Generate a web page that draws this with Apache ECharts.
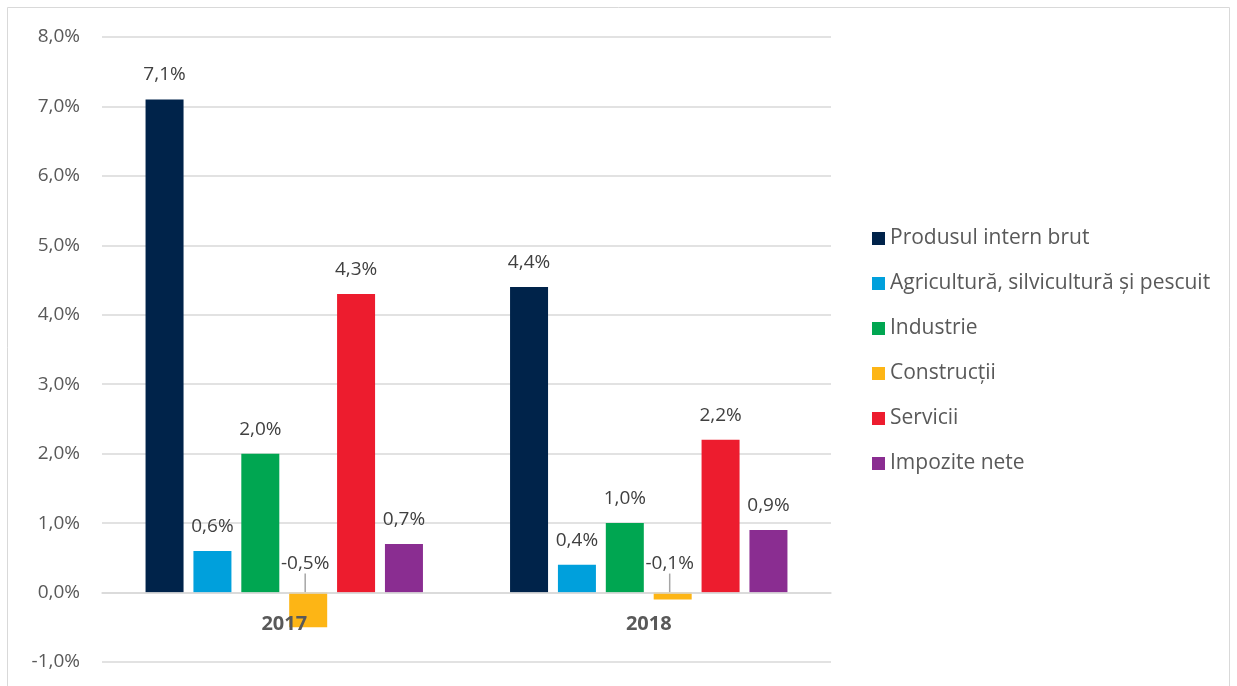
<!DOCTYPE html>
<html>
<head>
<meta charset="utf-8">
<script src="https://cdn.jsdelivr.net/npm/echarts@6/dist/echarts.min.js"></script>
<style>
  html, body { margin: 0; padding: 0; background: #fff; }
  #chart { width: 1237px; height: 686px; }
</style>
</head>
<body>
<div id="chart"></div>
<script>
// date
var years = ['2017', '2018'];
var seriesNames = [
  'Produsul intern brut',
  'Agricultură, silvicultură și pescuit',
  'Industrie',
  'Construcții',
  'Servicii',
  'Impozite nete'
];
var pib = [7.1, 4.4];
var agricultura = [0.6, 0.4];
var industrie = [2.0, 1.0];
var constructii = [-0.5, -0.1];
var servicii = [4.3, 2.2];
var impozite = [0.7, 0.9];
var yTicks = [-1, 0, 1, 2, 3, 4, 5, 6, 7, 8];

var colors = ['#00234A', '#00A0DC', '#00A651', '#FDB515', '#ED1C2E', '#8A2D91'];
var allValues = [pib, agricultura, industrie, constructii, servicii, impozite];

function pct(v) {
  return v.toFixed(1).replace('.', ',') + '%';
}

var chart = echarts.init(document.getElementById('chart'));

var series = allValues.map(function (vals, i) {
  var s = {
    name: seriesNames[i],
    type: 'bar',
    barWidth: 38,
    barGap: '26%',
    itemStyle: { color: colors[i] },
    label: {
      show: true,
      position: 'top',
      distance: 15,
      color: '#404040',
      fontSize: 19,
      fontFamily: 'Open Sans',
      formatter: function (p) { return pct(p.value); }
    },
    data: vals
  };
  // valorile negative: eticheta mutata deasupra axei, cu linie de legatura
  if (vals.some(function (v) { return v < 0; })) {
    s.label.position = 'insideBottom';
    s.label.distance = 0;
    s.labelLayout = function (p) {
      return { y: p.rect.y - 19, x: p.rect.x + p.rect.width / 2 - 3, align: 'center', verticalAlign: 'bottom' };
    };
    s.labelLine = { show: true, lineStyle: { color: '#a6a6a6', width: 1.5 } };
  }
  return s;
});

var option = {
  backgroundColor: '#fff',
  animation: false,
  textStyle: { fontFamily: 'Open Sans' },
  graphic: [{
    type: 'rect',
    shape: { x: 7.5, y: 7.5, width: 1222, height: 700 },
    style: { fill: 'none', stroke: '#d9d9d9', lineWidth: 1 },
    silent: true,
    z: -1
  }],
  grid: { left: 102, right: 406, top: 37, bottom: 24, outerBoundsMode: 'none' },
  legend: {
    orient: 'vertical',
    left: 872,
    top: 228,
    padding: 0,
    itemWidth: 13,
    itemHeight: 13,
    itemGap: 24,
    icon: 'rect',
    textStyle: { color: '#595959', fontSize: 21, fontFamily: 'Open Sans', padding: [0, 0, 0, 0] },
    data: seriesNames
  },
  xAxis: {
    type: 'category',
    data: years,
    z: 10,
    axisLine: { onZero: true, lineStyle: { color: '#d9d9d9', width: 1.5 } },
    axisTick: { show: false },
    axisLabel: { color: '#595959', fontSize: 20, fontWeight: 'bold', margin: -48 }
  },
  yAxis: {
    type: 'value',
    min: yTicks[0],
    max: yTicks[yTicks.length - 1],
    interval: 1,
    axisLine: { show: false },
    axisTick: { show: false },
    splitLine: { lineStyle: { color: '#d9d9d9', width: 1.5 } },
    axisLabel: {
      color: '#595959',
      fontSize: 19,
      margin: 22,
      formatter: function (v) { return pct(v); }
    }
  },
  series: series
};

chart.setOption(option);
</script>
</body>
</html>
